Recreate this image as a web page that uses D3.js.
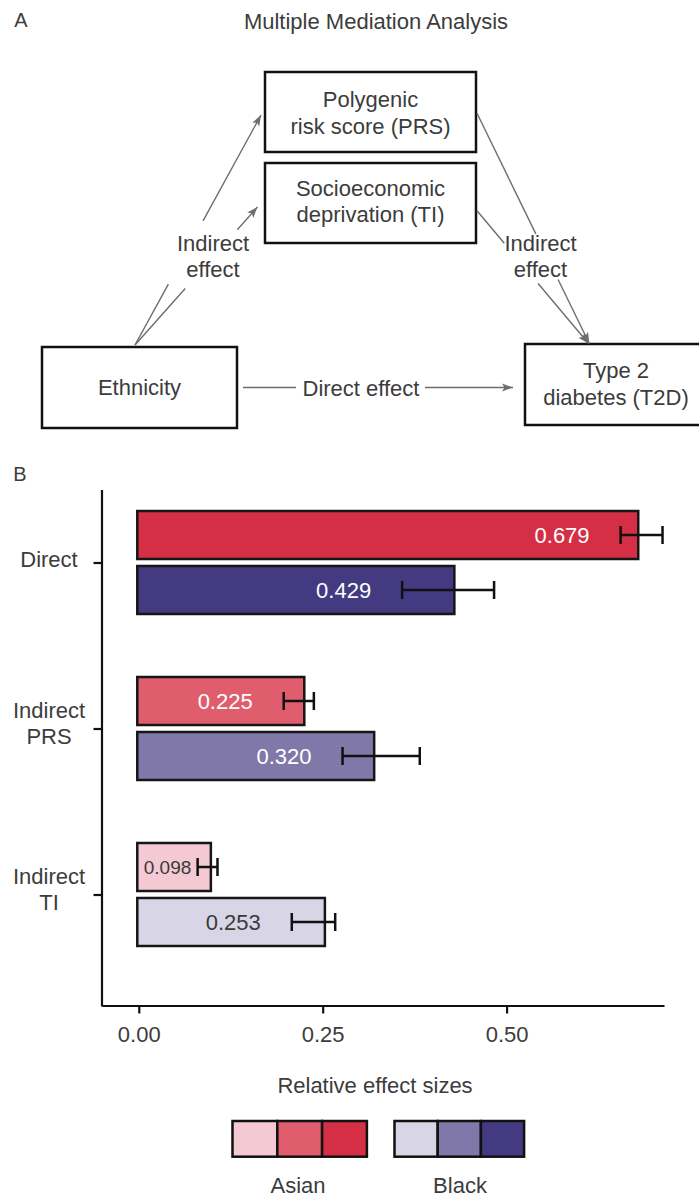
<!DOCTYPE html>
<html><head><meta charset="utf-8">
<script src="https://cdn.jsdelivr.net/npm/d3@7"></script>
<style>
body{margin:0;background:#fff}
text{font-family:"Liberation Sans",Arial,Helvetica,sans-serif}
</style>
</head><body>
<svg id="chart" width="699" height="1197"></svg>
<script>
// ---------- data ----------
const categories = ["Direct", "Indirect PRS", "Indirect TI"];
const groups = ["Asian", "Black"];
const asianValues = [0.679, 0.225, 0.098];
const blackValues = [0.429, 0.320, 0.253];
const asianLower = [0.655, 0.197, 0.080];
const asianUpper = [0.712, 0.238, 0.107];
const blackLower = [0.358, 0.277, 0.208];
const blackUpper = [0.483, 0.382, 0.267];
const asianColors = ["#d52f45", "#e05d6e", "#f4c9d3"];
const blackColors = ["#443a82", "#7f78a9", "#d7d5e6"];
const xTickValues = [0, 0.25, 0.5];
const xTitle = "Relative effect sizes";
const diagramTitle = "Multiple Mediation Analysis";

const TXT = "#3c3c3c";
const svg = d3.select("#chart");

// ================= Panel A: mediation diagram =================
const A = svg.append("g");
A.append("text").attr("x", 21).attr("y", 20).attr("dy", "0.35em")
  .attr("text-anchor", "middle").attr("font-size", 20).attr("fill", TXT).text("A");
A.append("text").attr("x", 376).attr("y", 21).attr("dy", "0.35em")
  .attr("text-anchor", "middle").attr("font-size", 22).attr("fill", TXT).text(diagramTitle);

const defs = svg.append("defs");
defs.append("marker").attr("id", "ah").attr("markerUnits", "userSpaceOnUse")
  .attr("markerWidth", 12).attr("markerHeight", 10).attr("refX", 11).attr("refY", 4.5)
  .attr("orient", "auto")
  .append("path").attr("d", "M0,0.5 L11,4.5 L0,8.5 L2.5,4.5 Z").attr("fill", "#6e6e6e");

const boxes = [
  {x: 265, y: 72, w: 211, h: 80, lines: ["Polygenic", "risk score (PRS)"], ly: [99, 126]},
  {x: 265, y: 163, w: 211, h: 80, lines: ["Socioeconomic", "deprivation (TI)"], ly: [188, 214]},
  {x: 42, y: 347, w: 195, h: 81, lines: ["Ethnicity"], ly: [387]},
  {x: 525, y: 344, w: 182, h: 81, lines: ["Type 2", "diabetes (T2D)"], ly: [370, 397]}
];
boxes.forEach(b => {
  A.append("rect").attr("x", b.x).attr("y", b.y).attr("width", b.w).attr("height", b.h)
    .attr("fill", "#fff").attr("stroke", "#111").attr("stroke-width", 2.5);
  b.lines.forEach((t, i) => {
    A.append("text").attr("x", b.x + b.w / 2).attr("y", b.ly[i]).attr("dy", "0.35em")
      .attr("text-anchor", "middle").attr("font-size", 22).attr("fill", TXT).text(t);
  });
});

// connector paths (each: list of segments, last one carries the arrow head)
function seg(p0, p1, head) {
  const l = A.append("line").attr("x1", p0[0]).attr("y1", p0[1]).attr("x2", p1[0]).attr("y2", p1[1])
    .attr("stroke", "#6e6e6e").attr("stroke-width", 1.4);
  if (head) l.attr("marker-end", "url(#ah)");
}
function brokenArrow(start, end, t0, t1) {
  const p = t => [start[0] + (end[0] - start[0]) * t, start[1] + (end[1] - start[1]) * t];
  seg(start, p(t0), false);
  seg(p(t1), end, true);
}
brokenArrow([135, 345], [261, 115], 0.265, 0.54);
brokenArrow([135, 345], [257.5, 207], 0.41, 0.835);
brokenArrow([477, 113.3], [589.3, 343.5], 0.524, 0.722);
brokenArrow([477, 210.7], [588.5, 343.5], 0.245, 0.548);
seg([243, 387.5], [296, 387.5], false);
seg([425, 387.5], [513, 387.5], true);

[[213, ["Indirect", "effect"]], [540.5, ["Indirect", "effect"]]].forEach(([x, ls]) => {
  ls.forEach((t, i) => A.append("text").attr("x", x).attr("y", [243, 269][i]).attr("dy", "0.35em")
    .attr("text-anchor", "middle").attr("font-size", 22).attr("fill", TXT).text(t));
});
A.append("text").attr("x", 361).attr("y", 388).attr("dy", "0.35em")
  .attr("text-anchor", "middle").attr("font-size", 22).attr("fill", TXT).text("Direct effect");

// ================= Panel B: bar chart =================
svg.append("text").attr("x", 20).attr("y", 473.5).attr("dy", "0.35em")
  .attr("text-anchor", "middle").attr("font-size", 20).attr("fill", TXT).text("B");

const rows = categories.flatMap((c, i) => [
  {cat: c, group: "Asian", value: asianValues[i], lo: asianLower[i], hi: asianUpper[i], color: asianColors[i]},
  {cat: c, group: "Black", value: blackValues[i], lo: blackLower[i], hi: blackUpper[i], color: blackColors[i]}
]);

const x = d3.scaleLinear().domain([-0.05, 0.714]).range([102, 664]);
const y = d3.scalePoint().domain(categories).range([562.5, 894.5]);
const yInner = d3.scaleBand().domain(groups).range([-51.5, 51.5]).paddingInner(0.127);
const axisY = 1005.5;

// axes
const gx = svg.append("g").attr("transform", `translate(0,${axisY})`)
  .call(d3.axisBottom(x).tickValues(xTickValues).tickFormat(d3.format(".2f")).tickSize(8).tickSizeOuter(0));
gx.select(".domain").attr("stroke", "#111").attr("stroke-width", 2.2);
gx.selectAll(".tick line").attr("stroke", "#111").attr("stroke-width", 2.2);
gx.selectAll(".tick text").attr("y", 28.5).attr("dy", "0.35em")
  .attr("font-size", 22).attr("fill", TXT).attr("font-family", null);

const gy = svg.append("g").attr("transform", "translate(102,0)")
  .call(d3.axisLeft(y).tickSize(8.5).tickSizeOuter(0).tickFormat(""));
gy.select(".domain").attr("d", "M0,490V1006.5").attr("stroke", "#111").attr("stroke-width", 2.2);
gy.selectAll(".tick line").attr("stroke", "#111").attr("stroke-width", 2.2);
categories.forEach(c => {
  const parts = c.split(" ");
  const offs = parts.length === 1 ? [-3] : [-18, 8];
  parts.forEach((p, i) => svg.append("text").attr("x", 49).attr("y", y(c) + offs[i]).attr("dy", "0.35em")
    .attr("text-anchor", "middle").attr("font-size", 22).attr("fill", TXT).text(p));
});

// bars
const bars = svg.append("g");
bars.selectAll("rect").data(rows).join("rect")
  .attr("x", x(0) - 1.5)
  .attr("y", d => y(d.cat) + yInner(d.group))
  .attr("width", d => x(d.value) - x(0) + 1.5)
  .attr("height", yInner.bandwidth())
  .attr("fill", d => d.color).attr("stroke", "#161616").attr("stroke-width", 2.5);

// value labels
rows.forEach(d => {
  const cy = y(d.cat) + yInner(d.group) + yInner.bandwidth() / 2;
  const light = d3.hsl(d.color).l > 0.7;
  const t = svg.append("text").attr("y", cy).attr("dy", "0.35em")
    .attr("font-size", 22).attr("fill", light ? "#3a3a3a" : "#fff").text(d.value.toFixed(3));
  const right = x(d.lo) - 31;
  const w = t.node().getComputedTextLength();
  if (right - w < x(0) + 5) {
    t.attr("font-size", 19).attr("x", x(0) + 5).attr("text-anchor", "start");
  } else {
    t.attr("x", right).attr("text-anchor", "end");
  }
});

// error bars
const eb = svg.append("g").attr("stroke", "#111").attr("stroke-width", 2.5).attr("fill", "none");
rows.forEach(d => {
  const cy = y(d.cat) + yInner(d.group) + yInner.bandwidth() / 2;
  eb.append("line").attr("x1", x(d.lo)).attr("x2", x(d.hi)).attr("y1", cy).attr("y2", cy);
  eb.append("line").attr("x1", x(d.lo)).attr("x2", x(d.lo)).attr("y1", cy - 9).attr("y2", cy + 9);
  eb.append("line").attr("x1", x(d.hi)).attr("x2", x(d.hi)).attr("y1", cy - 9).attr("y2", cy + 9);
});

// axis title
svg.append("text").attr("x", 375).attr("y", 1085.5).attr("dy", "0.35em")
  .attr("text-anchor", "middle").attr("font-size", 22).attr("fill", TXT).text(xTitle);

// legend
const legendGroups = [
  {name: "Asian", colors: asianColors.slice().reverse(), x0: 232.5, bw: 44.8, lx: 298},
  {name: "Black", colors: blackColors.slice().reverse(), x0: 394.5, bw: 43.2, lx: 460}
];
legendGroups.forEach(g => {
  g.colors.forEach((c, i) => svg.append("rect").attr("x", g.x0 + i * g.bw).attr("y", 1121)
    .attr("width", g.bw).attr("height", 35.7).attr("fill", c)
    .attr("stroke", "#111").attr("stroke-width", 2.5));
  svg.append("text").attr("x", g.lx).attr("y", 1185).attr("dy", "0.35em")
    .attr("text-anchor", "middle").attr("font-size", 22).attr("fill", TXT).text(g.name);
});
</script>
</body></html>
